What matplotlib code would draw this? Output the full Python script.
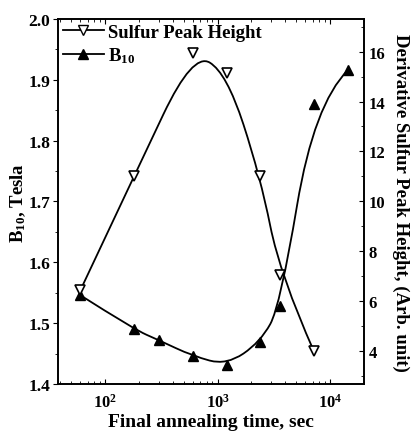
import numpy as np
from matplotlib import pyplot as plt
from matplotlib.path import Path
from matplotlib.patches import PathPatch
from matplotlib.lines import Line2D
from matplotlib.ticker import MultipleLocator

plt.rcParams['font.family'] = ['Liberation Serif', 'DejaVu Serif']
plt.rcParams['font.weight'] = 'bold'
plt.rcParams['mathtext.fontset'] = 'custom'
plt.rcParams['mathtext.rm'] = 'Liberation Serif:bold'
plt.rcParams['mathtext.bf'] = 'Liberation Serif:bold'
plt.rcParams['mathtext.default'] = 'bf'

# data
t_sulfur = [60, 180, 600, 1200, 2400, 3600, 7200]
sulfur = [6.44, 11.0, 15.96, 15.16, 11.0, 7.04, 4.0]
t_b10 = [60, 180, 300, 600, 1200, 2400, 3600, 7200, 14400]
b10 = [1.546, 1.490, 1.472, 1.446, 1.431, 1.469, 1.528, 1.860, 1.916]


def bspline_path(x, y):
    # quadratic B-spline with the points as control points (log x)
    lx = np.log10(x)
    verts = [(x[0], y[0])]
    codes = [Path.MOVETO]
    n = len(x)
    for i in range(1, n - 1):
        if i < n - 2:
            end = (10 ** ((lx[i] + lx[i + 1]) / 2), (y[i] + y[i + 1]) / 2)
        else:
            end = (x[-1], y[-1])
        verts += [(x[i], y[i]), end]
        codes += [Path.CURVE3, Path.CURVE3]
    return Path(verts, codes)


fig = plt.figure(figsize=(4.14, 4.35), dpi=100)
ax = fig.add_axes([0.140, 0.115, 0.739, 0.839])
ax2 = ax.twinx()

ax.set_xscale('log')
ax.set_xlim(38, 20000)
ax.set_ylim(1.4, 2.0)

ax.add_patch(PathPatch(bspline_path(t_b10, b10), fill=False, lw=1.3, ec='k'))
ax.plot(t_b10, b10, ls='none', marker='^', ms=7, mfc='k', mec='k')
ax2.add_patch(PathPatch(bspline_path(t_sulfur, sulfur), fill=False, lw=1.3, ec='k'))
ax2.plot(t_sulfur, sulfur, ls='none', marker='v', ms=7, mfc='white', mec='k', mew=1.2)

ax.yaxis.set_major_locator(MultipleLocator(0.1))
ax.yaxis.set_minor_locator(MultipleLocator(0.05))
ax2.set_yticks([4, 6, 8, 10, 12, 14, 16])
ax2.yaxis.set_minor_locator(MultipleLocator(1))
ax2.set_ylim(2.7, 17.3)

ax.tick_params(axis='y', which='both', direction='out', labelsize=12.5, pad=2)
ax.tick_params(axis='x', which='both', direction='in', top=True, labelsize=12, pad=6)
ax2.tick_params(axis='y', which='both', direction='in', labelsize=12)

ax.set_xlabel('Final annealing time, sec', fontsize=14, fontweight='bold', labelpad=2)
ax.set_ylabel(r'B$_{10}$, Tesla', fontsize=13.5, fontweight='bold', labelpad=0)
ax2.set_ylabel('Derivative Sulfur Peak Height, (Arb. unit)', fontsize=13.5,
               fontweight='bold', rotation=270, labelpad=17)

for a in (ax, ax2):
    for s in a.spines.values():
        s.set_linewidth(1.2)

handles = [
    Line2D([], [], color='k', lw=1.3, marker='v', ms=7, mfc='white', mec='k'),
    Line2D([], [], color='k', lw=1.3, marker='^', ms=7, mfc='k', mec='k'),
]
ax.legend(handles, ['Sulfur Peak Height', r'B$_{10}$'], loc='upper left',
          frameon=False, numpoints=1, handlelength=2.2, handletextpad=0.2,
          borderaxespad=0.05, labelspacing=0.25, borderpad=0.2,
          prop={'size': 13.5, 'weight': 'bold'})

plt.savefig('out.png', dpi=100)
